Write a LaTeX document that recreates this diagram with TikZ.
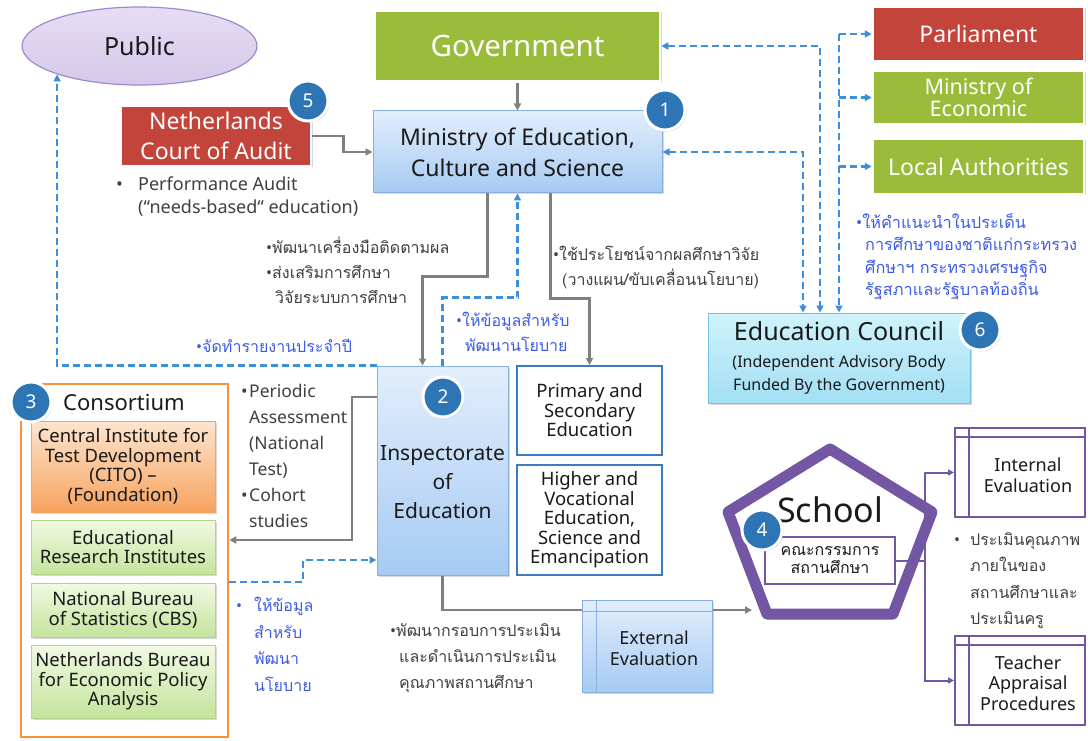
\documentclass[tikz,border=0pt]{standalone}
\usepackage{fontspec}
\setmainfont{Noto Sans}
\newfontfamily\thaifont[Script=Thai]{Loma}
\usetikzlibrary{arrows.meta,calc,positioning,shadows,shapes.geometric}
\definecolor{TextInk}{HTML}{1A1A1A}
\definecolor{NoteGray}{HTML}{404040}
\definecolor{NoteBlue}{HTML}{3D5CE6}
\definecolor{OrgRed}{HTML}{C2443A}
\definecolor{OrgGreen}{HTML}{9BBB3B}
\definecolor{BoxBlueTop}{HTML}{E2EEFC}
\definecolor{BoxBlueBot}{HTML}{A6CAF3}
\definecolor{BoxBlueLine}{HTML}{88B0DE}
\definecolor{SecBlue}{HTML}{3A7CC0}
\definecolor{LineGray}{HTML}{7F7F7F}
\definecolor{LinkBlue}{HTML}{3C8FDB}
\definecolor{BadgeBlue}{HTML}{2E75B6}
\definecolor{ConsOrange}{HTML}{F7923A}
\definecolor{CitoTop}{HTML}{FDE5CF}
\definecolor{CitoBot}{HTML}{F7A35F}
\definecolor{LeafTop}{HTML}{F2F9E4}
\definecolor{LeafBot}{HTML}{C4E49C}
\definecolor{LeafLine}{HTML}{B5D486}
\definecolor{CouncilTop}{HTML}{CFF3FC}
\definecolor{CouncilBot}{HTML}{A3DFF3}
\definecolor{CouncilLine}{HTML}{6FC3DE}
\definecolor{PentPurple}{HTML}{7356A4}
\definecolor{PublicFill}{HTML}{E6DDF5}
\definecolor{PublicLine}{HTML}{9E8BCB}
\newcommand{\fs}[2]{\fontsize{#1}{#2}\selectfont}
\newcommand{\bul}{{\normalfont\textbullet}}
\tikzset{
  every node/.style={text=TextInk, inner sep=0pt},
  flowtip/.tip={Triangle[length=7pt,width=7pt]},
  softshadow/.style={drop shadow={opacity=0.3, shadow xshift=1.5pt, shadow yshift=-1.5pt}},
  orgbox/.style={draw=white, line width=2.5, text=white, align=center, softshadow},
  bluebox/.style={top color=BoxBlueTop, bottom color=BoxBlueBot, draw=BoxBlueLine, line width=1, align=center, softshadow},
  leafbox/.style={top color=LeafTop, bottom color=LeafBot, draw=LeafLine, line width=1, align=center, minimum width=184,
                  font=\fs{18.5}{19.5}, softshadow},
  sectorbox/.style={draw=SecBlue, line width=2, fill=white, align=center, minimum width=145, font=\fs{18.5}{19.5}},
  evalbox/.style={draw=PentPurple, line width=2, fill=white, minimum width=130, minimum height=89},
  evaltext/.style={align=center, font=\fs{18}{20.5}},
  badge/.style={circle, fill=BadgeBlue, draw=white, line width=3, minimum size=40, text=white, font=\fs{19}{20}, softshadow},
  note/.style={anchor=north west, align=left, text=NoteGray},
  bluenote/.style={note, text=NoteBlue},
  flow/.style={draw=LineGray, line width=2.5, -flowtip},
  infolink/.style={draw=LinkBlue, line width=2.2, dash pattern=on 7pt off 4pt, -flowtip},
  schoolflow/.style={draw=PentPurple, line width=2, -{Triangle[length=6pt,width=6pt]}},
}

\begin{document}
\begin{tikzpicture}[x=1pt,y=-1pt]
  \useasboundingbox[fill=white] (0,0) rectangle (1088,741);
  % Top row
  \node[ellipse, top color=PublicFill, bottom color=PublicFill!85!PentPurple, draw=PublicLine, line width=1.2,
        minimum width=235, minimum height=78, font=\fs{25}{30}] (public) at (139.5,46) {Public};
  \node[orgbox, fill=OrgGreen, minimum width=285, minimum height=71, font=\fs{29.5}{34}] (gov) at (517.5,46) {Government};
  \node[orgbox, fill=OrgRed, minimum width=211, minimum height=54, font=\fs{23}{26}] (parl) at (978.5,34) {Parliament};
  \node[orgbox, fill=OrgGreen, minimum width=211, minimum height=53, font=\fs{21.5}{22}] (econ) at (978.5,97.5) {Ministry of\\Economic};
  \node[orgbox, fill=OrgGreen, minimum width=211, minimum height=55, font=\fs{23}{26}] (local) at (978.5,166.5) {Local Authorities};
  \node[orgbox, fill=OrgRed, minimum width=190, minimum height=60, font=\fs{23}{30}] (court) at (216,136) {Netherlands\\Court of Audit};
  \node[bluebox, minimum width=289, minimum height=82, font=\fs{23}{31}] (moe) at (517.5,152) {Ministry of Education,\\Culture and Science};
  \node[badge] (badgeA) at (665,110) {1};
  \node[badge] (badgeE) at (308,101) {5};
  % Middle row
  \node[bluebox, minimum width=131, minimum height=209] (insp) at (442.5,470.5) {};
  \node[align=center, font=\fs{21}{29}] (insplabel) at (442.5,482) {Inspectorate\\of\\Education};
  \node[badge] (badgeB) at (443,397) {2};
  \node[sectorbox, minimum height=89] (prim) at (589.5,410.5) {Primary and\\Secondary\\Education};
  \node[sectorbox, minimum height=110] (high) at (589.5,520) {Higher and\\Vocational\\Education,\\Science and\\Emancipation};
  \node[top color=CouncilTop, bottom color=CouncilBot, draw=CouncilLine, line width=1, align=center, softshadow,
        minimum width=262, minimum height=90, font=\fs{16}{23}] (council) at (839,358)
        {{\fs{25}{28}Education Council}\\[4pt](Independent Advisory Body\\Funded By the Government)};
  \node[badge] (badgeF) at (980,330) {6};
  % Consortium
  \node[draw=ConsOrange, line width=2.5, fill=white, minimum width=207, minimum height=353] (cons) at (124.5,560.5) {};
  \node[font=\fs{22}{24}] (constitle) at (124,403) {Consortium};
  \node[leafbox, top color=CitoTop, bottom color=CitoBot, draw=CitoBot, minimum height=91] (cito) at (123,466.5)
        {Central Institute for\\Test Development\\(CITO) –\\(Foundation)};
  \node[leafbox, minimum height=54] (eri) at (123,547) {Educational\\Research Institutes};
  \node[leafbox, minimum height=54] (cbs) at (123,610) {National Bureau\\of Statistics (CBS)};
  \node[leafbox, minimum height=73] (cpb) at (123,681.5) {Netherlands Bureau\\for Economic Policy\\Analysis};
  \node[badge] (badgeC) at (31,402) {3};
  % Gray flows
  \draw[flow] (gov.south) -- (moe.north);
  \draw[flow] (court.east) -- ++(31,0) |- (moe.west);
  \draw[flow] ([xshift=-30pt]moe.south) -- ++(0,83) -| ([xshift=-20pt]insp.north);
  \draw[flow] ([xshift=33pt]moe.south) -- ++(0,105) -| (prim.north);
  \draw[flow] (insp.west |- 0,397) -| (352,540) -- (cons.east |- 0,540);
  \coordinate (schoolin) at (752,610);
  \draw[flow] (insp.south) |- (schoolin);
  % Blue information links
  \draw[infolink] (insp.north) -- ++(0,-68) -| (moe.south);
  \draw[infolink] (insp.north west) -| (public.199);
  \draw[infolink] (cons.east |- 0,582) -- (303,582) |- (insp.west |- 0,560);
  \draw[infolink, flowtip-flowtip] (moe.east) -| ([xshift=-36pt]council.north);
  \draw[infolink, flowtip-flowtip] (gov.east) -| ([xshift=-19pt]council.north);
  \draw[infolink] (parl.west -| council.north) -- (council.north);
  \foreach \dest in {parl, econ, local}
    \draw[infolink] (\dest.west -| council.north) -- (\dest.west);
  % External evaluation
  \node[bluebox, minimum width=130, minimum height=92] (exteval) at (647,646) {};
  \draw[BoxBlueLine, line width=1] ([xshift=15pt]exteval.north west) -- ([xshift=15pt]exteval.south west);
  \draw[BoxBlueLine, line width=1] ([yshift=-12pt]exteval.north west) -- ([yshift=-12pt]exteval.north east);
  \node[evaltext] (extevallabel) at (654,648) {External\\Evaluation};
  % School
  \draw[PentPurple, line width=11, line join=round, fill=white] (830,449) -- (932,512) -- (893,614) -- (767,614) -- (728,512) -- cycle;
  \node[font=\fs{34}{36}] (schoolname) at (830,510) {School};
  \node[draw=PentPurple, line width=2, fill=white, align=center, minimum width=130, minimum height=47,
        font=\thaifont\fs{16}{18}] (board) at (830,560.5) {คณะกรรมการ\\สถานศึกษา};
  \node[badge] (badgeD) at (762,530) {4};
  \node[evalbox] (inteval) at (1020,472.5) {};
  \node[evalbox] (teach) at (1020,680.5) {};
  \foreach \evalname in {inteval, teach} {
    \draw[PentPurple, line width=2] ([xshift=15pt]\evalname.north west) -- ([xshift=15pt]\evalname.south west);
    \draw[PentPurple, line width=2] ([yshift=-10pt]\evalname.north west) -- ([yshift=-10pt]\evalname.north east);
  }
  \node[evaltext] (intevallabel) at (1028,475) {Internal\\Evaluation};
  \node[evaltext] (teachlabel) at (1028,683) {Teacher\\Appraisal\\Procedures};
  \draw[schoolflow, -] (board.east) -- ++(29,0) coordinate (split);
  \draw[schoolflow] (split) |- (inteval.west);
  \draw[schoolflow] (split) |- (teach.west);
  % Notes
  \node[note, font=\fs{18}{23}] (auditnote) at (116,177) {\makebox[22pt][l]{\bul}Performance Audit\\\hspace*{22pt}(“needs-based“ education)};
  \node[note, font=\thaifont\fs{16}{25}] (monitornote) at (266,237) {\bul พัฒนาเครื่องมือติดตามผล\\\bul ส่งเสริมการศึกษา\\\hspace*{9pt}วิจัยระบบการศึกษา};
  \node[note, font=\thaifont\fs{16}{25}] (researchnote) at (553,246) {\bul ใช้ประโยชน์จากผลศึกษาวิจัย\\\hspace*{9pt}(วางแผน/ขับเคลื่อนนโยบาย)};
  \node[bluenote, font=\thaifont\fs{16}{25}] (policynote) at (456,312) {\bul ให้ข้อมูลสำหรับ\\\hspace*{9pt}พัฒนานโยบาย};
  \node[bluenote, font=\thaifont\fs{16}{25}] (reportnote) at (196,339) {\bul จัดทำรายงานประจำปี};
  \node[bluenote, font=\thaifont\fs{16.3}{22.5}] (advisenote) at (856,213) {\bul ให้คำแนะนำในประเด็น\\\hspace*{9pt}การศึกษาของชาติแก่กระทรวง\\\hspace*{9pt}ศึกษาฯ กระทรวงเศรษฐกิจ\\\hspace*{9pt}รัฐสภาและรัฐบาลท้องถิ่น};
  \node[note, font=\fs{17.5}{26}] (testnote) at (241,384) {\makebox[8pt][l]{\bul}Periodic\\\hspace*{8pt}Assessment\\\hspace*{8pt}(National\\\hspace*{8pt}Test)\\\makebox[8pt][l]{\bul}Cohort\\\hspace*{8pt}studies};
  \node[bluenote, font=\thaifont\fs{16}{26.5}] (datanote) at (236,597) {\makebox[18pt][l]{\bul}ให้ข้อมูล\\\hspace*{18pt}สำหรับ\\\hspace*{18pt}พัฒนา\\\hspace*{18pt}นโยบาย};
  \node[note, font=\thaifont\fs{16}{26}] (framenote) at (390,623) {\bul พัฒนากรอบการประเมิน\\\hspace*{9pt}และดำเนินการประเมิน\\\hspace*{9pt}คุณภาพสถานศึกษา};
  \node[note, font=\thaifont\fs{16}{26.5}] (schoolnote) at (954,532) {\makebox[16pt][l]{\bul}ประเมินคุณภาพ\\\hspace*{16pt}ภายในของ\\\hspace*{16pt}สถานศึกษาและ\\\hspace*{16pt}ประเมินครู};
\end{tikzpicture}
\end{document}
